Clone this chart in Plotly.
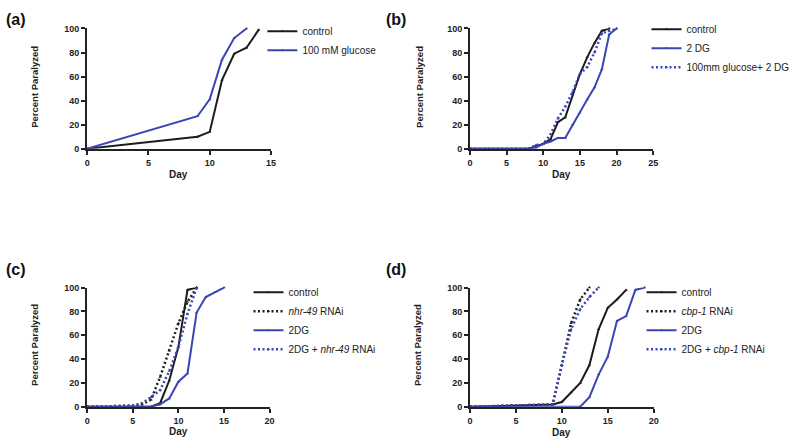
import plotly.graph_objects as go

# ---------------- data ----------------
# (a)
a_ctrl_day = [0, 9, 10, 11, 12, 13, 14]
a_ctrl_val = [0, 10, 14, 57, 79, 84, 99]
a_glu_day = [0, 9, 10, 11, 12, 13]
a_glu_val = [0, 27, 41, 74, 92, 100]

# (b)
b_ctrl_day = [0, 8, 9, 10, 11, 12, 13, 14, 15, 16, 17, 18, 19]
b_ctrl_val = [0, 0, 2, 4, 8, 22, 26, 45, 62, 76, 88, 98, 100]
b_2dg_day = [0, 8, 9, 10, 11, 12, 13, 14, 15, 16, 17, 18, 19, 20]
b_2dg_val = [0, 0, 1, 4, 6, 9, 9, 20, 30, 41, 51, 66, 95, 100]
b_glu2dg_day = [0, 8, 9, 10, 11, 12, 13, 14, 15, 16, 17, 18, 19, 20]
b_glu2dg_val = [0, 0, 3, 4, 12, 25, 35, 47, 62, 68, 80, 96, 98, 100]

# (c)
c_ctrl_day = [0, 7, 8, 9, 10, 11, 12]
c_ctrl_val = [0, 0, 3, 22, 50, 98, 100]
c_nhr_day = [0, 5, 6, 7, 8, 9, 10, 11, 12]
c_nhr_val = [0, 1, 2, 6, 25, 47, 70, 88, 100]
c_2dg_day = [0, 7, 8, 9, 10, 11, 12, 13, 14, 15]
c_2dg_val = [0, 0, 2, 7, 21, 28, 79, 92, 96, 100]
c_2dgnhr_day = [0, 5, 6, 7, 8, 9, 10, 11, 12]
c_2dgnhr_val = [0, 1, 3, 8, 14, 30, 50, 78, 100]

# (d)
d_ctrl_day = [0, 9, 10, 11, 12, 13, 14, 15, 16, 17]
d_ctrl_val = [0, 2, 4, 12, 20, 35, 65, 83, 90, 98]
d_cbp_day = [0, 9, 10, 11, 12, 13]
d_cbp_val = [0, 2, 35, 70, 90, 100]
d_2dg_day = [0, 12, 13, 14, 15, 16, 17, 18, 19]
d_2dg_val = [0, 0, 8, 27, 42, 72, 76, 98, 100]
d_2dgcbp_day = [0, 9, 10, 11, 12, 13, 14]
d_2dgcbp_val = [0, 2, 35, 65, 82, 92, 100]

y_ticks = [0, 20, 40, 60, 80, 100]

BLACK = "#1c1c1c"
BLUE = "#3a45b6"
FONT = "Liberation Sans, Arial, sans-serif"

W, H = 800, 446

def px_x(p):
    return p / W

def px_y(p):
    return 1 - p / H

fig = go.Figure()

def add(day, val, name, color, dash, xa, ya, legend):
    dotted = dash != "solid"
    fig.add_trace(go.Scatter(
        x=day, y=val, name=name, mode="lines+markers",
        line=dict(color=color, width=2.5 if dotted else 2,
                  dash="2px,2.5px" if dotted else "solid"),
        marker=dict(symbol="triangle-up", size=3, color=color),
        xaxis=xa, yaxis=ya, legend=legend, cliponaxis=False,
    ))

add(a_ctrl_day, a_ctrl_val, "control", BLACK, "solid", "x", "y", "legend")
add(a_glu_day, a_glu_val, "100 mM glucose", BLUE, "solid", "x", "y", "legend")

add(b_ctrl_day, b_ctrl_val, "control", BLACK, "solid", "x2", "y2", "legend2")
add(b_2dg_day, b_2dg_val, "2 DG", BLUE, "solid", "x2", "y2", "legend2")
add(b_glu2dg_day, b_glu2dg_val, "100mm glucose+ 2 DG", BLUE, "dot", "x2", "y2", "legend2")

add(c_ctrl_day, c_ctrl_val, "control", BLACK, "solid", "x3", "y3", "legend3")
add(c_nhr_day, c_nhr_val, "<i>nhr-49</i> RNAi", BLACK, "dot", "x3", "y3", "legend3")
add(c_2dg_day, c_2dg_val, "2DG", BLUE, "solid", "x3", "y3", "legend3")
add(c_2dgnhr_day, c_2dgnhr_val, "2DG + <i>nhr-49</i> RNAi", BLUE, "dot", "x3", "y3", "legend3")

add(d_ctrl_day, d_ctrl_val, "control", BLACK, "solid", "x4", "y4", "legend4")
add(d_cbp_day, d_cbp_val, "<i>cbp-1</i> RNAi", BLACK, "dot", "x4", "y4", "legend4")
add(d_2dg_day, d_2dg_val, "2DG", BLUE, "solid", "x4", "y4", "legend4")
add(d_2dgcbp_day, d_2dgcbp_val, "2DG + <i>cbp-1</i> RNAi", BLUE, "dot", "x4", "y4", "legend4")

tickfont = dict(family=FONT, size=9, color="#222", weight="bold")

def xaxis(domain, rng, dtick, anchor):
    return dict(domain=domain, range=rng, dtick=dtick, tick0=0, anchor=anchor,
                showgrid=False, zeroline=False, showline=True, linecolor="#222",
                linewidth=2, ticks="outside", ticklen=4, tickwidth=2, tickcolor="#222",
                tickfont=tickfont, fixedrange=True)

def yaxis(domain, anchor):
    return dict(domain=domain, range=[0, 100], tickvals=y_ticks, anchor=anchor,
                showgrid=False, zeroline=False, showline=True, linecolor="#222",
                linewidth=2, ticks="outside", ticklen=4, tickwidth=2, tickcolor="#222",
                tickfont=tickfont, fixedrange=True)

top = [px_y(147), px_y(24)]
bot = [px_y(411), px_y(289)]

leg_common = dict(font=dict(family=FONT, size=10, color="#222"), bgcolor="rgba(0,0,0,0)",
                  xanchor="left", yanchor="top", xref="paper", yref="paper",
                  tracegroupgap=0, itemwidth=30)

fig.update_layout(
    width=W, height=H,
    margin=dict(l=0, r=0, t=0, b=0),
    paper_bgcolor="white", plot_bgcolor="white",
    xaxis=xaxis([px_x(85), px_x(270.7)], [0, 15], 5, "y"),
    yaxis=yaxis(top, "x"),
    xaxis2=xaxis([px_x(471.7), px_x(656.7)], [0, 25], 5, "y2"),
    yaxis2=yaxis(top, "x2"),
    xaxis3=xaxis([px_x(85), px_x(269.3)], [0, 20], 5, "y3"),
    yaxis3=yaxis(bot, "x3"),
    xaxis4=xaxis([px_x(471.7), px_x(657.3)], [0, 20], 5, "y4"),
    yaxis4=yaxis(bot, "x4"),
    legend=dict(x=px_x(262), y=px_y(12), **leg_common),
    legend2=dict(x=px_x(650), y=px_y(10), **leg_common),
    legend3=dict(x=px_x(248), y=px_y(279), **leg_common),
    legend4=dict(x=px_x(645), y=px_y(279), **leg_common),
    showlegend=True,
)

annots = []
# panel labels
for lbl, x, y in [("(a)", 1, 15), ("(b)", 385, 15), ("(c)", 1, 271), ("(d)", 385, 271)]:
    annots.append(dict(text=lbl, x=px_x(x), y=px_y(y), xref="paper", yref="paper",
                       xanchor="left", yanchor="middle", showarrow=False,
                       font=dict(family=FONT, size=16, color="#111", weight="bold")))
# y titles
for x, y in [(31, 84), (420, 84), (32, 348), (418, 348)]:
    annots.append(dict(text="Percent Paralyzed", x=px_x(x), y=px_y(y), xref="paper", yref="paper",
                       xanchor="center", yanchor="middle", showarrow=False, textangle=-90,
                       font=dict(family=FONT, size=9.5, color="#222", weight="bold")))
# x titles
for x, y in [(177, 173), (564, 173), (177, 436), (564, 437)]:
    annots.append(dict(text="Day", x=px_x(x), y=px_y(y), xref="paper", yref="paper",
                       xanchor="center", yanchor="middle", showarrow=False,
                       font=dict(family=FONT, size=10, color="#222", weight="bold")))
fig.update_layout(annotations=annots)

fig.write_html("out.html", config={"displayModeBar": False},
               post_script="document.body.style.margin='0';document.body.style.overflow='hidden';")
